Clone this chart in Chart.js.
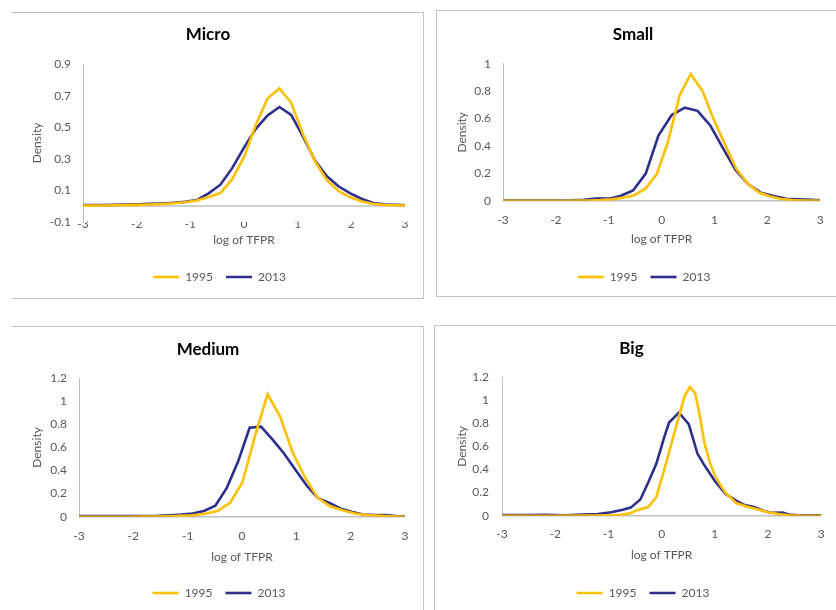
<!DOCTYPE html>
<html>
<head>
<meta charset="utf-8">
<script src="https://cdn.jsdelivr.net/npm/chart.js@4.4.1/dist/chart.umd.min.js"></script>
<style>
  html, body { margin: 0; padding: 0; background: #ffffff; }
  body { width: 836px; height: 610px; position: relative; overflow: hidden; }
  .frame { position: absolute; box-sizing: border-box; border: 1px solid #c4c4c4; }
  canvas { position: absolute; }
</style>
</head>
<body>
<div class="frame" style="left:11px;top:12px;width:413px;height:287px;border-left:none;"></div>
<div class="frame" style="left:436px;top:10px;width:420px;height:287px;border-right:none;"></div>
<div class="frame" style="left:11px;top:326px;width:413px;height:300px;border-left:none;border-bottom:none;"></div>
<div class="frame" style="left:434px;top:325px;width:420px;height:300px;border-right:none;border-bottom:none;"></div>

<canvas id="micro" width="412" height="284" style="left:11px;top:13px"></canvas>
<canvas id="small" width="399" height="283" style="left:437px;top:12px"></canvas>
<canvas id="medium" width="412" height="283" style="left:11px;top:327px"></canvas>
<canvas id="big" width="401" height="284" style="left:435px;top:326px"></canvas>

<script>
// ---------------- data ----------------
const seriesNames = ['1995', '2013'];
const xTicks = [-3, -2, -1, 0, 1, 2, 3];

const microX = [-3, -2.86, -2.64, -2.42, -2.2, -1.98, -1.76, -1.54, -1.32, -1.1, -0.88, -0.66, -0.44, -0.22, 0, 0.22, 0.44, 0.66, 0.88, 1.1, 1.32, 1.54, 1.76, 1.98, 2.2, 2.42, 2.64, 2.86, 3];
const micro1995 = [0.002, 0.002, 0.003, 0.004, 0.005, 0.007, 0.009, 0.012, 0.017, 0.024, 0.035, 0.057, 0.082, 0.17, 0.31, 0.515, 0.683, 0.746, 0.655, 0.455, 0.285, 0.165, 0.095, 0.055, 0.028, 0.013, 0.006, 0.004, 0.003];
const micro2013 = [0.005, 0.005, 0.006, 0.007, 0.009, 0.011, 0.013, 0.016, 0.02, 0.026, 0.037, 0.08, 0.135, 0.24, 0.37, 0.49, 0.575, 0.628, 0.578, 0.44, 0.29, 0.19, 0.125, 0.08, 0.044, 0.018, 0.009, 0.008, 0.004];

const smallX1995 = [-3, -2.67, -2.45, -2.24, -2.02, -1.81, -1.59, -1.38, -1.16, -0.95, -0.73, -0.52, -0.3, -0.09, 0.12, 0.34, 0.55, 0.77, 0.98, 1.2, 1.41, 1.63, 1.84, 2.06, 2.27, 2.49, 2.7, 2.92, 3];
const small1995 = [0, 0, 0, 0, 0, 0, 0.001, 0.002, 0.005, 0.01, 0.022, 0.04, 0.09, 0.195, 0.43, 0.77, 0.925, 0.805, 0.6, 0.41, 0.235, 0.125, 0.06, 0.03, 0.013, 0.005, 0.002, 0.001, 0];
const smallX2013 = [-3, -2.92, -2.68, -2.44, -2.2, -1.96, -1.72, -1.48, -1.24, -1.0, -0.78, -0.54, -0.3, -0.06, 0.19, 0.44, 0.68, 0.92, 1.16, 1.4, 1.64, 1.88, 2.12, 2.36, 2.6, 2.84, 3];
const small2013 = [0.002, 0.002, 0.002, 0.002, 0.002, 0.002, 0.003, 0.007, 0.016, 0.015, 0.035, 0.075, 0.198, 0.476, 0.626, 0.68, 0.657, 0.55, 0.385, 0.225, 0.12, 0.058, 0.035, 0.014, 0.01, 0.006, 0.003];

const mediumX1995 = [-3, -2.75, -2.52, -2.29, -2.06, -1.83, -1.6, -1.37, -1.14, -0.91, -0.68, -0.45, -0.22, 0.01, 0.24, 0.47, 0.7, 0.93, 1.16, 1.39, 1.62, 1.85, 2.08, 2.31, 2.54, 2.77, 3];
const medium1995 = [0, 0, 0, 0, 0, 0.001, 0.002, 0.004, 0.007, 0.012, 0.025, 0.05, 0.12, 0.3, 0.7, 1.06, 0.87, 0.56, 0.34, 0.165, 0.09, 0.055, 0.028, 0.014, 0.008, 0.003, 0];
const mediumX2013 = [-3, -2.8, -2.59, -2.38, -2.17, -1.96, -1.75, -1.54, -1.33, -1.12, -0.91, -0.7, -0.49, -0.28, -0.07, 0.14, 0.35, 0.56, 0.77, 0.98, 1.19, 1.4, 1.61, 1.82, 2.03, 2.24, 2.45, 2.66, 2.87, 3];
const medium2013 = [0.005, 0.005, 0.005, 0.005, 0.005, 0.005, 0.006, 0.008, 0.013, 0.018, 0.028, 0.05, 0.095, 0.25, 0.48, 0.77, 0.78, 0.67, 0.55, 0.41, 0.27, 0.16, 0.12, 0.07, 0.04, 0.018, 0.015, 0.015, 0.003, 0.003];

const bigX1995 = [-3, -2.5, -2, -1.5, -1.2, -1, -0.8, -0.6, -0.45, -0.25, -0.1, 0.05, 0.2, 0.35, 0.43, 0.53, 0.63, 0.72, 0.8, 0.9, 1.0, 1.1, 1.2, 1.4, 1.6, 1.8, 2.0, 2.2, 2.4, 2.6, 3];
const big1995 = [0, 0, 0, 0.001, 0.002, 0.003, 0.006, 0.02, 0.05, 0.075, 0.16, 0.4, 0.65, 0.9, 1.036, 1.113, 1.065, 0.86, 0.64, 0.47, 0.35, 0.27, 0.2, 0.11, 0.08, 0.055, 0.03, 0.015, 0.004, 0.001, 0];
const bigX2013 = [-3, -2.5, -2.2, -2.0, -1.8, -1.5, -1.2, -0.95, -0.75, -0.58, -0.4, -0.25, -0.1, 0.05, 0.14, 0.325, 0.51, 0.675, 0.8, 1.0, 1.2, 1.4, 1.56, 1.74, 1.9, 2.05, 2.27, 2.42, 2.6, 3];
const big2013 = [0.005, 0.005, 0.008, 0.006, 0.004, 0.01, 0.015, 0.03, 0.05, 0.07, 0.14, 0.29, 0.45, 0.68, 0.807, 0.893, 0.793, 0.536, 0.44, 0.3, 0.19, 0.13, 0.092, 0.075, 0.045, 0.026, 0.028, 0.007, 0.003, 0.003];

// ---------------- styling ----------------
const COLORS = ['#FFC000', '#2E2E8C'];
const TXT = '#595959';
Chart.defaults.font.family = 'Lato, "Open Sans", sans-serif';
Chart.defaults.color = TXT;

const zeroLine = {
  id: 'zeroLine',
  beforeDatasetsDraw(chart) {
    const {ctx, chartArea, scales} = chart;
    const y = scales.y.getPixelForValue(0);
    ctx.save();
    ctx.strokeStyle = '#bfbfbf';
    ctx.lineWidth = 1.5;
    ctx.beginPath();
    ctx.moveTo(chartArea.left, y);
    ctx.lineTo(chartArea.right, y);
    ctx.stroke();
    ctx.restore();
  }
};

// shifts the legend horizontally so it is centred like the original
const legendShift = {
  id: 'legendShift',
  afterLayout(chart, args, opts) {
    if (chart.legend) {
      chart.legend.left += opts.dx;
      chart.legend.right += opts.dx;
    }
  }
};

function pts(xs, ys) { return xs.map((x, i) => ({x: x, y: ys[i]})); }
const fmt = (v) => String(parseFloat(Number(v).toFixed(2)));

function panel(id, title, xa, ya, xb, yb, yMin, yMax, g) {
  new Chart(document.getElementById(id), {
    type: 'line',
    data: {
      datasets: [
        {label: seriesNames[0], data: pts(xa, ya), borderColor: COLORS[0], backgroundColor: COLORS[0], borderWidth: 2.6},
        {label: seriesNames[1], data: pts(xb, yb), borderColor: COLORS[1], backgroundColor: COLORS[1], borderWidth: 2.6}
      ]
    },
    options: {
      responsive: false,
      animation: false,
      devicePixelRatio: 1,
      elements: {
        line: {tension: 0, fill: false},
        point: {radius: 0, hoverRadius: 0}
      },
      layout: {padding: {left: 0, right: g.padR, top: 0, bottom: g.padB}},
      plugins: {
        title: {display: true, text: title, color: '#000000',
                font: {size: 17, weight: 'bold'}, padding: {top: g.tTop, bottom: g.tBot}},
        legend: {position: 'bottom',
                 labels: {usePointStyle: true, pointStyle: 'line', pointStyleWidth: 26,
                           font: {size: 12}, color: TXT, padding: 13}},
        tooltip: {enabled: false},
        legendShift: {dx: g.legDx}
      },
      scales: {
        x: {
          type: 'linear', min: -3, max: 3,
          afterBuildTicks: (s) => { s.ticks = xTicks.map(v => ({value: v})); },
          grid: {display: false, drawTicks: false},
          border: {display: false},
          ticks: {font: {size: 12}, color: TXT, padding: g.xTickPad, maxRotation: 0, callback: fmt},
          title: {display: true, text: 'log of TFPR', font: {size: 12}, color: TXT,
                  padding: {top: g.xtTop, bottom: g.xtBot}}
        },
        y: {
          min: yMin, max: yMax,
          ticks: {stepSize: 0.2, font: {size: 12}, color: TXT, padding: g.yTickPad, callback: fmt},
          grid: {display: false, drawTicks: false},
          border: {display: true, color: '#bfbfbf', width: 1},
          title: {display: true, text: 'Density', font: {size: 12}, color: TXT,
                  padding: {top: g.ytTop, bottom: 0}},
          afterFit: (s) => { s.width = g.plotL; }
        }
      }
    },
    plugins: [zeroLine, legendShift]
  });
}

panel('micro', 'Micro', microX, micro1995, microX, micro2013, -0.1, 0.9,
  {padR: 18, padB: 4, tTop: 11.4, tBot: 19.4, xTickPad: -4.7, xtTop: 6.1, xtBot: 10.8, yTickPad: 12, ytTop: 18.8, plotL: 72, legDx: 11.5});
panel('small', 'Small', smallX1995, small1995, smallX2013, small2013, 0, 1,
  {padR: 7, padB: 2, tTop: 12.4, tBot: 19.1, xTickPad: 12.3, xtTop: -7.9, xtBot: 11.8, yTickPad: 12, ytTop: 17.5, plotL: 66, legDx: 11});
panel('medium', 'Medium', mediumX1995, medium1995, mediumX2013, medium2013, 0, 1.2,
  {padR: 18, padB: 1, tTop: 12.4, tBot: 18.4, xTickPad: 12, xtTop: -5.3, xtBot: 9.8, yTickPad: 12, ytTop: 18.8, plotL: 68, legDx: 11});
panel('big', 'Big', bigX1995, big1995, bigX2013, big2013, 0, 1.2,
  {padR: 8, padB: 1, tTop: 12.4, tBot: 18.4, xTickPad: 11.3, xtTop: -4.9, xtBot: 11.8, yTickPad: 13, ytTop: 19.5, plotL: 67, legDx: 11.5});
</script>
</body>
</html>
